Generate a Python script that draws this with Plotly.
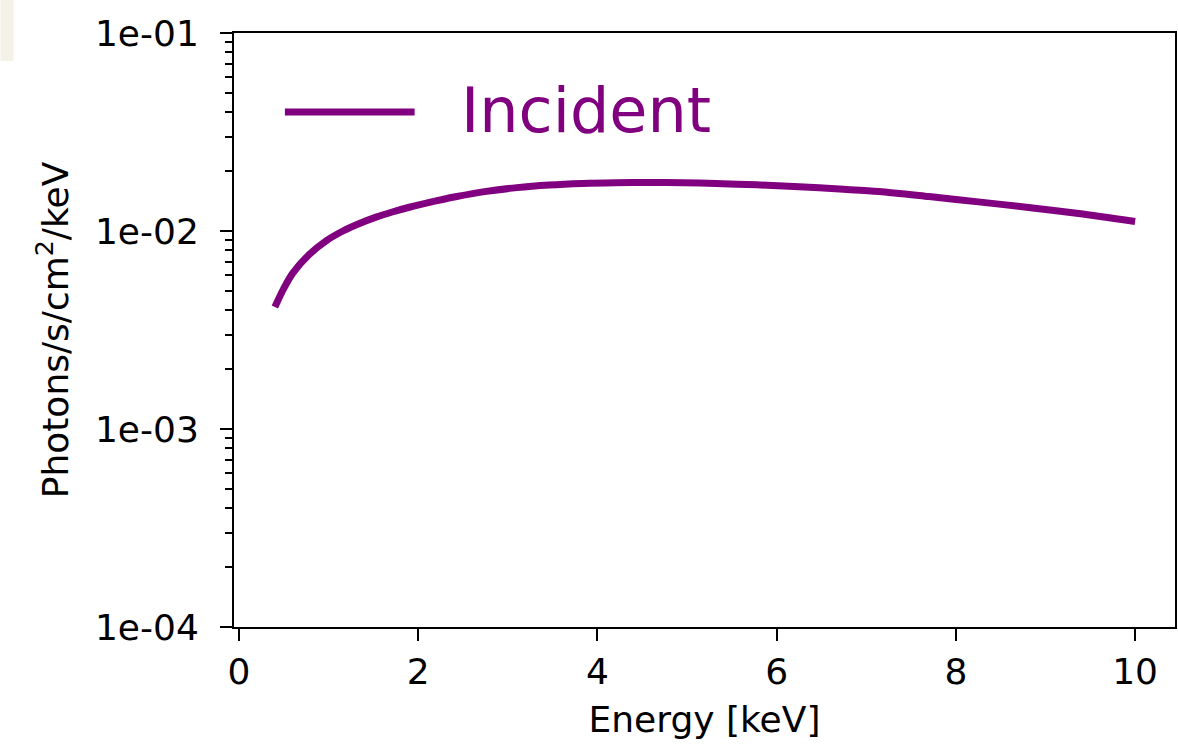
import plotly.graph_objects as go

energy_kev = [0.40, 0.50, 0.60, 0.78, 0.98, 1.16, 1.35, 1.53, 1.71, 1.90, 2.09, 2.43, 2.76, 3.10, 3.46, 3.83,
              4.20, 4.58, 4.95, 5.32, 5.78, 6.25, 6.70, 7.14, 7.70, 8.25, 8.81, 9.37, 10.0]
flux = [0.004130, 0.005129, 0.006124, 0.007586, 0.008974, 0.010000, 0.010940, 0.011749, 0.012474,
        0.013183, 0.013836, 0.014928, 0.015849, 0.016558, 0.017061, 0.017378, 0.017539, 0.017579,
        0.017539, 0.017378, 0.017100, 0.016749, 0.016293, 0.015849, 0.014928, 0.014028, 0.013152,
        0.012246, 0.011169]
series_name = "Incident"
x_ticks = [0, 2, 4, 6, 8, 10]
y_ticks = [1e-4, 1e-3, 1e-2, 1e-1]
y_ticktext = ["1e-04", "1e-03", "1e-02", "1e-01"]

PURPLE = "#800080"
FONT = "DejaVu Sans"

minor_vals = [d * 10.0 ** e for e in (-4, -3, -2) for d in range(2, 10)]

fig = go.Figure()
fig.add_trace(go.Scatter(
    x=energy_kev, y=flux, mode="lines", name=series_name,
    line=dict(color=PURPLE, width=7, shape="spline", smoothing=0.8),
    showlegend=False,
))

# legend (matplotlib-like long sample line with coloured label)
fig.add_shape(type="line", xref="paper", yref="paper",
              x0=(285 - 234) / 943, x1=(415 - 234) / 943,
              y0=(627 - 112) / 594, y1=(627 - 112) / 594,
              line=dict(color=PURPLE, width=7))
fig.add_annotation(text=series_name, xref="paper", yref="paper",
                   x=(459 - 234) / 943, y=(627 - 111) / 594,
                   xanchor="left", yanchor="middle", showarrow=False,
                   font=dict(family=FONT, size=62, color=PURPLE))

# small beige patch at top-left corner of the original image
fig.add_shape(type="rect", xref="paper", yref="paper",
              x0=(0 - 234) / 943, x1=(13 - 234) / 943,
              y0=(627 - 61) / 594, y1=(627 + 40) / 594,
              line=dict(width=0), fillcolor="#f4f1e8", layer="below")

fig.update_layout(
    width=1178, height=748,
    margin=dict(l=234, r=1, t=33, b=121),
    paper_bgcolor="white", plot_bgcolor="white",
    font=dict(family=FONT, size=36, color="black"),
    showlegend=False,
)
fig.update_xaxes(
    range=[-0.056, 10.445], tickvals=x_ticks,
    ticks="outside", ticklen=12, tickwidth=2, tickcolor="black",
    showline=True, linecolor="black", linewidth=2, mirror=True,
    showgrid=False, zeroline=False,
    tickfont=dict(family=FONT, size=36, color="black"),
    title=dict(text="Energy [keV]", font=dict(family=FONT, size=36, color="black"), standoff=16),
)
fig.update_yaxes(
    type="log", range=[-4, -1], tickvals=y_ticks, ticktext=y_ticktext,
    ticks="outside", ticklen=12, tickwidth=2, tickcolor="black",
    minor=dict(tickvals=minor_vals, ticks="outside", ticklen=7, tickwidth=1.5,
               tickcolor="black", showgrid=False),
    showline=True, linecolor="black", linewidth=2, mirror=True,
    showgrid=False, zeroline=False, ticklabelstandoff=14,
    tickfont=dict(family=FONT, size=36, color="black"),
    title=dict(text="Photons/s/cm<sup>2</sup>/keV", font=dict(family=FONT, size=36, color="black"), standoff=15),
)

fig.write_html("out.html", config={"displayModeBar": False},
               post_script="document.body.style.margin='0';document.body.style.overflow='hidden';")
